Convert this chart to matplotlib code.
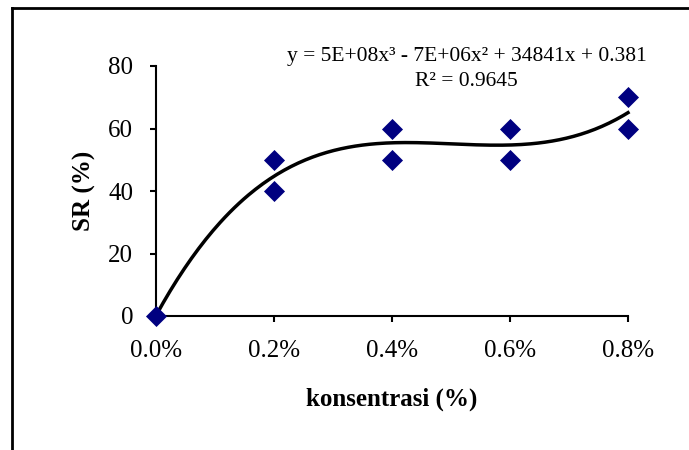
import numpy as np
import matplotlib
matplotlib.use("Agg")
import matplotlib.pyplot as plt
from matplotlib.ticker import PercentFormatter
from matplotlib.lines import Line2D

# data
konsentrasi = [0.0, 0.002, 0.002, 0.004, 0.004, 0.006, 0.006, 0.008, 0.008]
sr = [0, 50, 40, 60, 50, 60, 50, 70, 60]
x_ticks = [0.0, 0.002, 0.004, 0.006, 0.008]
y_ticks = [0, 20, 40, 60, 80]
equation = "y = 5E+08x³ - 7E+06x² + 34841x + 0.381"
r2_text = "R² = 0.9645"

plt.rcParams['font.family'] = ['Liberation Serif', 'DejaVu Serif']

fig = plt.figure(figsize=(6.89, 4.5), dpi=100)
ax = fig.add_axes([156/689, 1-316/450, (628-156)/689, (316-66)/450])

# polynomial trendline (order 3)
coef = np.polyfit(konsentrasi, sr, 3)
xs = np.linspace(0, 0.008, 200)
ax.plot(xs, np.polyval(coef, xs), color='black', lw=2.5, zorder=2, clip_on=False)

ax.scatter(konsentrasi, sr, marker='D', s=115, color='#000080', zorder=3, clip_on=False, linewidths=0)

ax.set_xlim(0, 0.008)
ax.set_ylim(0, 80)
ax.set_xticks(x_ticks)
ax.set_yticks(y_ticks)
ax.xaxis.set_major_formatter(PercentFormatter(xmax=1, decimals=1))
for s in ['top', 'right']:
    ax.spines[s].set_visible(False)
for s in ['left', 'bottom']:
    ax.spines[s].set_linewidth(1.5)
ax.tick_params(axis='both', direction='out', length=4.5, width=1.5, labelsize=18)
ax.tick_params(axis='y', pad=12)
ax.tick_params(axis='x', pad=13)

ax.set_xlabel("konsentrasi (%)", fontsize=18, fontweight='bold', labelpad=18)
ax.set_ylabel("SR (%)", fontsize=18, fontweight='bold', labelpad=9)

fig.text(467/689, 1-57/450, equation, ha='center', va='center', fontsize=15.5)
fig.text(466/689, 1-81/450, r2_text, ha='center', va='center', fontsize=15.5)

# outer frame (left and top only)
fig.add_artist(Line2D([12/689, 12/689], [0, 1-8/450], transform=fig.transFigure, color='black', lw=2))
fig.add_artist(Line2D([12/689, 1], [1-8/450, 1-8/450], transform=fig.transFigure, color='black', lw=2))

fig.savefig("out.png", dpi=100, facecolor='white')
